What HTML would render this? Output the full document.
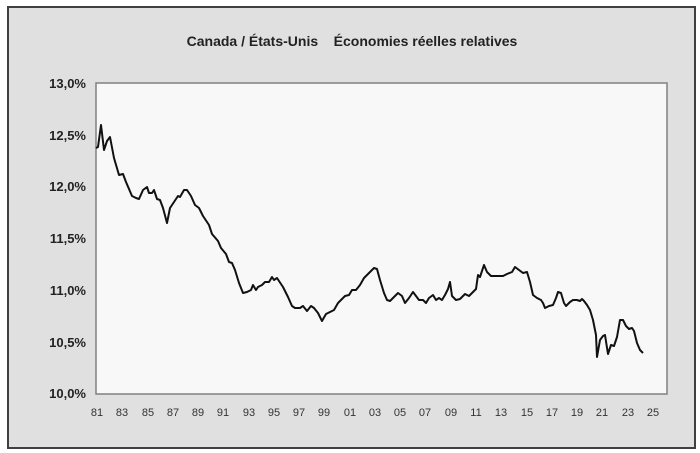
<!DOCTYPE html>
<html><head><meta charset="utf-8"><style>
html,body{margin:0;padding:0;background:#fff;}
svg{display:block;font-family:"Liberation Sans",Arial,sans-serif;}
</style></head><body>
<svg width="700" height="453" viewBox="0 0 700 453">
<rect x="0" y="0" width="700" height="453" fill="#fff"/>
<rect x="8" y="7" width="687" height="441" fill="#e0e0e0" stroke="#404040" stroke-width="2"/>
<rect x="96" y="83" width="571" height="311" fill="#f8f8f8" stroke="#808080" stroke-width="1.5"/>
<text x="352" y="46" text-anchor="middle" font-size="14" font-weight="bold" fill="#222" xml:space="preserve" style="white-space:pre">Canada / États-Unis    Économies réelles relatives</text>
<g font-size="13" font-weight="bold" fill="#222" text-anchor="end">
<text x="86" y="88">13,0%</text>
<text x="86" y="140">12,5%</text>
<text x="86" y="191">12,0%</text>
<text x="86" y="243">11,5%</text>
<text x="86" y="295">11,0%</text>
<text x="86" y="347">10,5%</text>
<text x="86" y="398">10,0%</text>
</g>
<g font-size="11" fill="#333" text-anchor="middle">
<text x="97" y="416">81</text><text x="122" y="416">83</text><text x="148" y="416">85</text><text x="173" y="416">87</text><text x="198" y="416">89</text><text x="223" y="416">91</text><text x="249" y="416">93</text><text x="274" y="416">95</text><text x="299" y="416">97</text><text x="324" y="416">99</text><text x="350" y="416">01</text><text x="375" y="416">03</text><text x="400" y="416">05</text><text x="425" y="416">07</text><text x="451" y="416">09</text><text x="476" y="416">11</text><text x="501" y="416">13</text><text x="527" y="416">15</text><text x="552" y="416">17</text><text x="577" y="416">19</text><text x="602" y="416">21</text><text x="628" y="416">23</text><text x="653" y="416">25</text>
</g>
<polyline fill="none" stroke="#111" stroke-width="2" stroke-linejoin="round" points="96,148 98,147 101,125 104,150 107,141 110,137 114,158 119,175 123,174 126,182 132,196 136,198 139,199 143,190 147,187 149,193 152,193 154,190 157,199 160,200 163,208 167,223 170,208 174,202 178,196 180,197 184,190 187,190 191,196 195,205 199,208 203,216 209,225 212,234 218,241 221,248 226,254 229,262 232,263 235,270 239,283 243,293 247,292 251,290 253,285 256,290 258,287 262,285 265,282 269,282 272,277 274,280 277,278 283,287 288,297 292,306 295,308 300,308 303,306 307,311 311,306 314,308 318,313 322,321 326,314 330,312 334,310 338,303 341,300 345,296 349,295 352,290 356,290 360,285 364,278 368,274 370,272 374,268 377,269 380,280 384,293 387,300 390,301 395,296 398,293 402,296 405,303 409,298 413,292 416,296 419,300 423,300 426,303 429,298 433,295 436,300 439,298 442,300 445,295 448,289 450,282 452,296 456,300 460,299 465,294 469,296 472,293 476,289 478,275 480,277 484,265 487,272 491,276 495,276 498,276 503,276 507,274 512,272 515,267 519,270 523,273 527,272 530,282 533,295 537,298 541,300 543,303 545,308 549,306 553,305 556,298 558,292 561,293 564,303 566,306 570,302 573,300 577,300 580,301 582,299 584,301 587,305 590,310 593,320 596,335 597,357 600,340 603,336 605,335 608,354 611,345 614,346 617,337 620,320 623,320 626,326 629,329 632,328 634,331 637,343 640,350 643,353"/>
</svg>
</body></html>
